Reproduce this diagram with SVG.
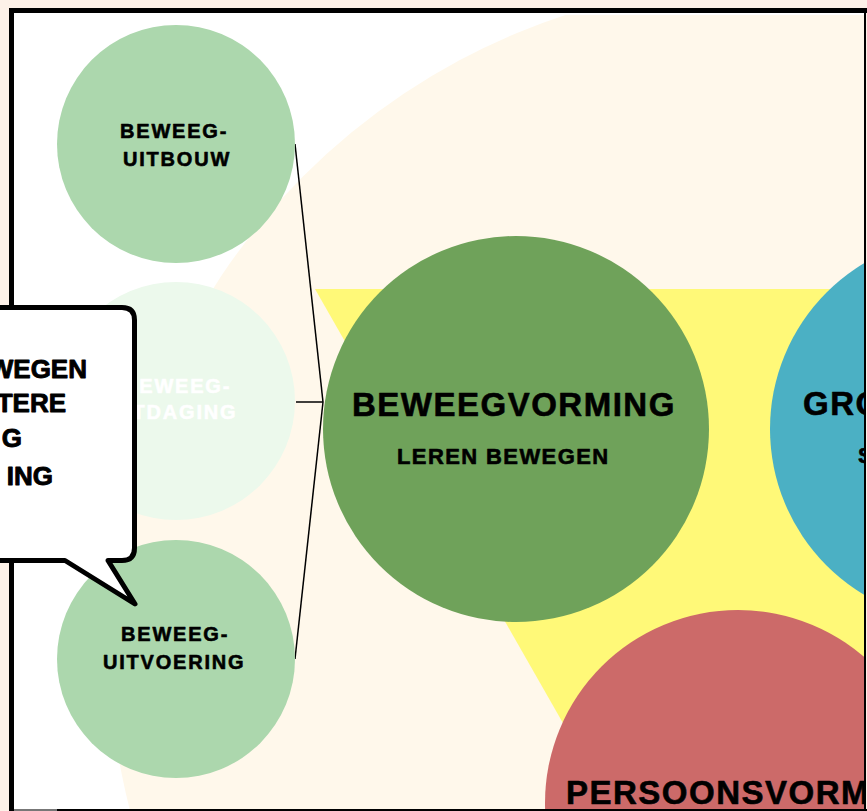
<svg xmlns="http://www.w3.org/2000/svg" width="867" height="811" viewBox="0 0 867 811">
  <defs>
    <clipPath id="inner">
      <rect x="14" y="13" width="850" height="797"/>
    </clipPath>
    <clipPath id="creamclip">
      <rect x="14" y="15" width="850" height="795"/>
    </clipPath>
    <style>
      .lbl { font-family: "Liberation Sans", Arial, sans-serif; font-weight: 700; fill: #000; stroke: #000; stroke-width: 0.6px; stroke-linejoin: round; }
      .white { fill: #ffffff; stroke: #ffffff; }
      .small { font-size: 20px; letter-spacing: 1.8px; }
      .big { font-size: 33px; letter-spacing: 1.5px; }
      .sub { font-size: 22px; letter-spacing: 1.4px; }
      .bubble { font-size: 26px; stroke-width: 0.9px; }
      .conn { stroke: #000; stroke-width: 1.5; fill: none; }
    </style>
  </defs>

  <!-- page background -->
  <rect x="0" y="0" width="867" height="811" fill="#fdf1e8"/>
  <rect x="14" y="13" width="850" height="797" fill="#ffffff"/>

  <g clip-path="url(#inner)">
    <!-- cream backdrop -->
    <circle cx="772" cy="645" r="663" fill="#fff8eb" clip-path="url(#creamclip)"/>
    <!-- yellow triangle -->
    <polygon points="315,289 1165,289 740,1033" fill="#fff978"/>

    <!-- connectors -->
    <g id="connectors">
      <line class="conn" x1="295" y1="144" x2="323" y2="402"/>
      <line class="conn" x1="296" y1="402" x2="323" y2="402"/>
      <line class="conn" x1="295" y1="659" x2="323" y2="402"/>
    </g>

    <g id="node-uitbouw">
      <circle cx="176" cy="144" r="119" fill="#acd7ad"/>
      <text class="lbl small" x="120" y="138">BEWEEG-</text>
      <text class="lbl small" x="123" y="166">UITBOUW</text>
    </g>

    <g id="node-uitdaging">
      <circle cx="176" cy="401" r="119" fill="#ecf9ec"/>
      <text class="lbl small white" x="123" y="393">BEWEEG-</text>
      <text class="lbl small white" x="109" y="419">UITDAGING</text>
    </g>

    <g id="node-uitvoering">
      <circle cx="176" cy="659" r="119" fill="#acd7ad"/>
      <text class="lbl small" x="121" y="641">BEWEEG-</text>
      <text class="lbl small" x="103" y="669">UITVOERING</text>
    </g>

    <g id="node-beweegvorming">
      <circle cx="516" cy="429" r="193" fill="#6fa25a"/>
      <text class="lbl big" x="352" y="416">BEWEEGVORMING</text>
      <text class="lbl sub" x="397" y="464">LEREN BEWEGEN</text>
    </g>

    <g id="node-groep">
      <circle cx="963" cy="429" r="193" fill="#4bb0c4"/>
      <text class="lbl big" x="803" y="415">GRO</text>
      <text class="lbl sub" x="858" y="463">S</text>
    </g>

    <g id="node-persoonsvorming">
      <circle cx="738" cy="803" r="193" fill="#cc6a69"/>
      <text class="lbl big" x="566" y="804">PERSOONSVORMI</text>
    </g>
  </g>

  <!-- frame -->
  <g id="frame">
    <rect x="9" y="8" width="5" height="803" fill="#000"/>
    <rect x="9" y="8" width="858" height="5" fill="#000"/>
    <rect x="864" y="8" width="2" height="803" fill="#000"/>
    <rect x="14" y="809" width="853" height="2" fill="#000"/>
    <rect x="14" y="809" width="43" height="2" fill="#777"/>
  </g>

  <!-- speech bubble -->
  <g id="node-bubble">
    <path d="M -20 307.5 H 122 Q 134.5 307.5 134.5 320 V 548 Q 134.5 560.5 122 560.5 H 108 L 135 604 L 65 560.5 H -20 Z" fill="#ffffff" stroke="#000" stroke-width="5" stroke-linejoin="round"/>
    <text class="lbl bubble" x="87" y="378" text-anchor="end">WEGEN</text>
    <text class="lbl bubble" x="66" y="412" text-anchor="end">TERE</text>
    <text class="lbl bubble" x="22" y="447" text-anchor="end">G</text>
    <text class="lbl bubble" x="53" y="485" text-anchor="end">ING</text>
  </g>
</svg>
